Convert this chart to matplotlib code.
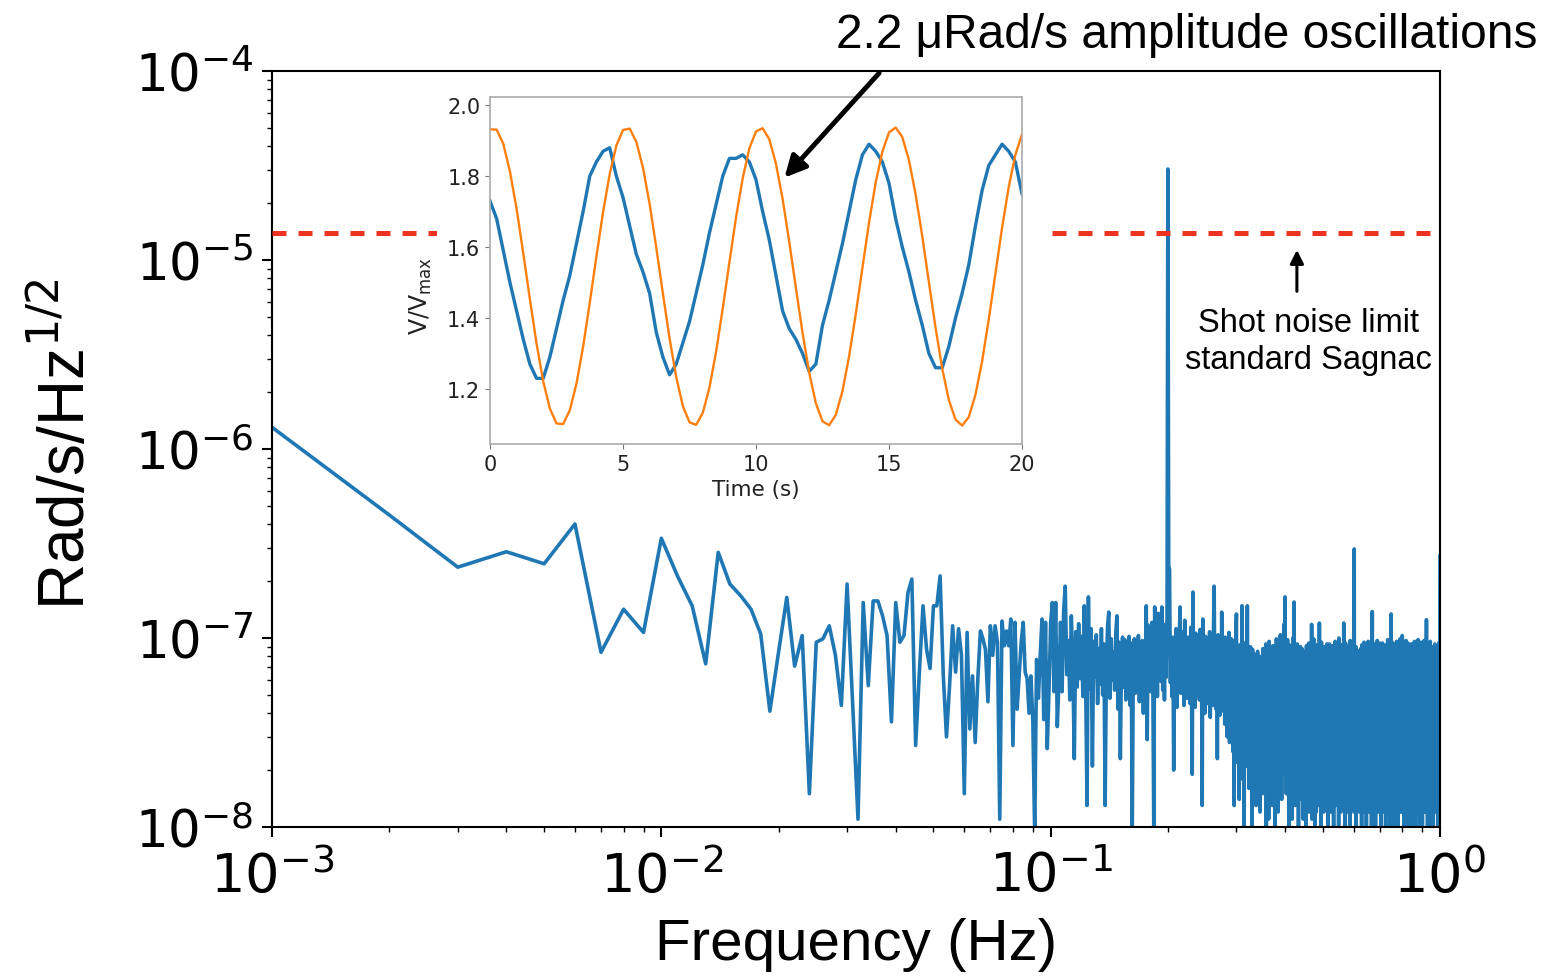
import numpy as np
import matplotlib.pyplot as plt
from matplotlib.patches import Rectangle
from matplotlib.ticker import FormatStrFormatter

plt.rcParams['mathtext.fontset'] = 'dejavusans'

# rotation noise spectrum, 1 mHz bins, in nRad/s/Hz^1/2
# 0.001 - 0.104 Hz
asd_low = [1303, 448, 237, 286, 247, 401, 84, 142, 107, 337,
           213, 148, 73, 284, 193, 167, 142, 105, 41, 84,
           164, 71, 103, 15, 95, 99, 116, 81, 44, 193,
           45, 11, 154, 56, 157, 157, 131, 103, 36, 154,
           95, 103, 174, 205, 27, 66, 148, 87, 69, 148,
           148, 213, 63, 30, 56, 116, 66, 112, 81, 15,
           107, 33, 63, 28, 61, 109, 99, 87, 46, 116,
           81, 116, 95, 11, 123, 91, 109, 91, 126, 27,
           121, 42, 63, 95, 121, 66, 61, 40, 63, 36,
           9, 77, 48, 81, 126, 37, 121, 26, 52, 121,
           154, 52, 154, 34]
# 0.105 - 0.299 Hz (rotation signal at 0.2 Hz)
asd_mid = [58, 121, 52, 140, 188, 64, 97, 47, 131, 72,
           23, 108, 55, 119, 61, 102, 49, 148, 58, 13,
           165, 54, 112, 21, 96, 62, 104, 45, 88, 57,
           112, 50, 93, 13, 66, 115, 137, 48, 99, 60,
           84, 53, 107, 131, 42, 95, 23, 76, 101, 55,
           98, 47, 89, 63, 102, 44, 94, 9, 71, 99,
           51, 86, 58, 103, 46, 92, 61, 97, 40, 88,
           55, 148, 29, 117, 64, 93, 52, 121, 57, 10,
           146, 66, 110, 49, 135, 71, 98, 59, 146, 53,
           104, 47, 118, 62, 110, 30300, 241, 230, 58, 96,
           49, 101, 20, 88, 55, 112, 43, 95, 60, 103,
           146, 51, 92, 66, 108, 44, 124, 57, 97, 48,
           101, 62, 89, 45, 114, 52, 19, 175, 58, 94,
           43, 106, 61, 88, 50, 99, 47, 111, 55, 84,
           13, 126, 48, 96, 40, 102, 58, 87, 45, 93,
           52, 108, 38, 97, 61, 90, 44, 115, 188, 50,
           95, 42, 87, 23, 104, 56, 92, 39, 99, 47,
           137, 53, 89, 41, 96, 35, 101, 48, 84, 30,
           93, 44, 107, 28, 88, 51, 99, 33, 90, 25,
           97, 13, 86, 38, 104]
# 0.300 - 1.000 Hz
asd_high = [134, 22, 81, 35, 67, 14, 92, 41, 73, 18, 148, 29, 88, 47, 9, 79, 33, 95, 21, 60,
            148, 37, 84, 16, 71, 44, 90, 25, 58, 8, 87, 39, 66, 19, 82, 30, 75, 13, 69, 42,
            85, 17, 62, 34, 80, 12, 57, 28, 77, 45, 15, 88, 31, 64, 20, 79, 38, 93, 9, 55,
            83, 26, 70, 11, 96, 43, 61, 18, 86, 32, 74, 13, 91, 40, 59, 23, 81, 8, 68, 36,
            99, 21, 72, 47, 12, 87, 29, 65, 17, 104, 35, 78, 14, 90, 42, 63, 24, 118, 19, 71,
            165, 33, 84, 15, 76, 46, 98, 22, 60, 9, 92, 37, 81, 18, 67, 28, 89, 11, 74, 41,
            101, 20, 155, 34, 79, 13, 86, 45, 58, 16, 93, 27, 70, 8, 83, 39, 64, 19, 90, 24,
            77, 14, 88, 31, 62, 11, 85, 43, 56, 17, 80, 25, 69, 9, 91, 36, 60, 15, 78, 22,
            94, 12, 73, 38, 87, 16, 66, 28, 118, 11, 82, 42, 59, 14, 99, 26, 71, 8, 88, 33,
            64, 12, 92, 20, 76, 40, 85, 13, 57, 24, 120, 15, 79, 35, 68, 9, 95, 29, 74, 17,
            86, 44, 61, 12, 90, 23, 72, 14, 83, 37, 66, 16, 93, 27, 58, 8, 80, 32, 70, 13,
            93, 21, 77, 45, 62, 12, 87, 30, 69, 15, 91, 24, 74, 9, 84, 39, 57, 18, 96, 26,
            68, 13, 81, 34, 89, 16, 63, 22, 78, 8, 100, 41, 72, 14, 86, 28, 60, 12, 92, 19,
            75, 36, 87, 13, 66, 25, 120, 15, 80, 43, 59, 9, 94, 30, 71, 17, 85, 22, 64, 12,
            90, 38, 76, 14, 82, 27, 61, 8, 97, 20, 73, 46, 88, 13, 67, 31, 79, 16, 93, 24,
            70, 12, 296, 35, 84, 15, 62, 28, 90, 9, 77, 42, 58, 17, 86, 21, 69, 13, 85, 33,
            64, 12, 81, 26, 73, 16, 88, 39, 60, 8, 92, 23, 70, 14, 83, 31, 57, 18, 95, 12,
            76, 44, 63, 15, 87, 27, 68, 9, 91, 20, 79, 36, 59, 13, 96, 25, 72, 16, 84, 12,
            66, 32, 89, 14, 78, 22, 61, 8, 102, 40, 138, 17, 81, 29, 65, 12, 93, 24, 70, 15,
            86, 37, 58, 9, 90, 19, 74, 43, 67, 13, 97, 28, 80, 16, 62, 12, 88, 34, 71, 21,
            94, 14, 69, 26, 83, 8, 60, 39, 91, 17, 76, 23, 94, 12, 65, 30, 85, 15, 72, 44,
            57, 13, 89, 22, 78, 9, 64, 35, 92, 16, 70, 27, 83, 12, 98, 20, 61, 38, 87, 14,
            75, 25, 66, 8, 90, 31, 59, 17, 80, 134, 42, 12, 73, 21, 95, 14, 68, 29, 84, 13,
            62, 36, 89, 9, 77, 19, 93, 26, 58, 15, 82, 40, 70, 12, 96, 23, 65, 16, 86, 33,
            74, 8, 91, 20, 60, 45, 85, 13, 69, 28, 99, 17, 78, 12, 63, 37, 88, 15, 72, 24,
            103, 12, 67, 31, 84, 14, 59, 22, 92, 9, 76, 41, 64, 16, 89, 27, 71, 13, 97, 19,
            81, 35, 62, 8, 87, 24, 70, 15, 94, 43, 57, 12, 79, 29, 66, 17, 90, 21, 73, 13,
            85, 38, 60, 9, 93, 18, 68, 26, 82, 14, 75, 46, 93, 12, 64, 32, 88, 16, 71, 22,
            96, 8, 59, 36, 80, 15, 67, 25, 91, 13, 77, 40, 62, 12, 86, 20, 73, 30, 98, 14,
            65, 17, 84, 42, 58, 9, 90, 27, 70, 15, 81, 34, 95, 12, 63, 23, 88, 16, 76, 38,
            61, 8, 92, 21, 72, 14, 85, 44, 67, 12, 97, 28, 79, 17, 60, 33, 89, 13, 74, 20,
            83, 12, 66, 125, 39, 15, 91, 25, 58, 9, 78, 36, 87, 14, 69, 22, 94, 12, 62, 31,
            80, 16, 71, 8, 96, 27, 57, 43, 85, 13, 68, 20, 90, 12, 74, 35, 63, 15, 88, 24,
            59, 9, 85, 30, 72, 14, 81, 41, 65, 12, 93, 19, 70, 26, 84, 13, 61, 37, 89, 16,
            76, 12, 67, 23, 91, 14, 58, 33, 82, 8, 74, 45, 87, 15, 63, 21, 95, 12, 70, 28,
            272]
shot_noise = 1.39e-5   # Rad/s/Hz^1/2, standard Sagnac

# inset: normalised detector voltage, one sample every 0.25 s
v_blue = [1.73, 1.68, 1.59, 1.50, 1.42, 1.34, 1.27, 1.23, 1.23, 1.29,
          1.37, 1.45, 1.52, 1.61, 1.70, 1.80, 1.84, 1.87, 1.88, 1.80,
          1.74, 1.66, 1.58, 1.53, 1.47, 1.36, 1.29, 1.24, 1.27, 1.33,
          1.39, 1.47, 1.55, 1.64, 1.72, 1.80, 1.85, 1.85, 1.86, 1.84,
          1.79, 1.70, 1.62, 1.52, 1.42, 1.37, 1.34, 1.30, 1.25, 1.27,
          1.38, 1.45, 1.53, 1.61, 1.70, 1.79, 1.86, 1.89, 1.87, 1.84,
          1.78, 1.68, 1.60, 1.53, 1.45, 1.38, 1.30, 1.26, 1.26, 1.32,
          1.40, 1.47, 1.55, 1.66, 1.76, 1.83, 1.86, 1.89, 1.87, 1.84,
          1.75]
v_orange = [1.932, 1.931, 1.891, 1.813, 1.708, 1.583, 1.453, 1.328, 1.222, 1.145,
            1.103, 1.101, 1.140, 1.215, 1.319, 1.443, 1.573, 1.698, 1.806, 1.886,
            1.930, 1.934, 1.897, 1.824, 1.722, 1.599, 1.469, 1.343, 1.234, 1.152,
            1.106, 1.099, 1.133, 1.204, 1.305, 1.427, 1.557, 1.684, 1.794, 1.878,
            1.926, 1.935, 1.904, 1.835, 1.736, 1.615, 1.485, 1.358, 1.246, 1.160,
            1.109, 1.098, 1.127, 1.194, 1.292, 1.411, 1.541, 1.669, 1.782, 1.869,
            1.923, 1.937, 1.910, 1.845, 1.749, 1.631, 1.501, 1.373, 1.258, 1.169,
            1.114, 1.097, 1.121, 1.184, 1.278, 1.396, 1.525, 1.654, 1.769, 1.860,
            1.918]

asd = np.concatenate([asd_low, asd_mid, asd_high]) * 1e-9
freq = np.arange(1, len(asd) + 1) * 1e-3
t_s = np.arange(len(v_blue)) * 0.25

W, H = 1554, 979
fig = plt.figure(figsize=(W / 100, H / 100), dpi=100)

# main spectrum
ax = fig.add_axes([272 / W, 1 - 828 / H, 1168 / W, 756 / H])
ax.loglog(freq, asd, color='#1f77b4', lw=2.6)
ax.plot([1e-3, 0.95], [shot_noise, shot_noise], color='#ee3322', lw=3.6,
        linestyle=(0, (2.8, 2.4)), zorder=3)
ax.set_xlim(1e-3, 1)
ax.set_ylim(1e-8, 1e-4)

for s in ax.spines.values():
    s.set_linewidth(1.5)
ax.tick_params(which='major', length=7, width=1.5, direction='out')
ax.tick_params(which='minor', length=3.5, width=1.0)
ax.tick_params(axis='y', labelsize=37, pad=6)
ax.tick_params(axis='x', labelsize=39, pad=9)

ax.set_xlabel('Frequency (Hz)', fontsize=42, family='Liberation Sans')
ax.xaxis.set_label_coords(0.5, -0.119)
ax.set_ylabel('Rad/s/Hz$^{1/2}$', fontsize=46, family='Liberation Sans')
ax.yaxis.set_label_coords(-0.149, 0.507)

# shot noise annotation
ax.annotate('', xy=(0.429, 1.17e-5), xytext=(0.429, 6.6e-6),
            arrowprops=dict(arrowstyle='-|>', mutation_scale=20, lw=2.2, color='black'))
ax.text(0.46, 3.75e-6, 'Shot noise limit\nstandard Sagnac', ha='center', va='center',
        fontsize=23.5, family='Liberation Sans', linespacing=1.25)

# white background behind the inset (hides the dashed line there)
fig.add_artist(Rectangle((437 / W, 1 - 515 / H), (1048 - 437) / W, (515 - 88) / H,
                         transform=fig.transFigure, facecolor='white',
                         edgecolor='none', zorder=2))

# inset time trace
axi = fig.add_axes([490 / W, 1 - 445 / H, 532 / W, 347 / H], zorder=3)
axi.plot(t_s, v_blue, color='#1f77b4', lw=2.4)
axi.plot(t_s, v_orange, color='#ff7f0e', lw=1.7)
axi.set_xlim(0, 20)
axi.set_ylim(1.045, 2.023)
axi.set_xticks([0, 5, 10, 15, 20])
axi.set_yticks([1.2, 1.4, 1.6, 1.8, 2.0])
axi.yaxis.set_major_formatter(FormatStrFormatter('%.1f'))
for s in axi.spines.values():
    s.set_color('#aaaaaa')
    s.set_linewidth(1.2)
axi.tick_params(labelsize=15, length=3.5, color='#777777', labelcolor='#222222')
axi.set_xlabel('Time (s)', fontsize=15.5, labelpad=4, color='#222222')
axi.set_ylabel('V/V$_{\\rm max}$', fontsize=17, color='#222222')
axi.yaxis.set_label_coords(-0.105, 0.43)

# amplitude annotation
axi.annotate('', xy=(11.0, 1.79), xytext=(881 / W, 1 - 72 / H), textcoords='figure fraction',
             arrowprops=dict(arrowstyle='-|>', mutation_scale=32, lw=3.5, color='black'))
fig.text(1187 / W, 1 - 36 / H, '2.2 \u03bcRad/s amplitude oscillations', ha='center',
         va='center', fontsize=34.5, family='Liberation Sans', zorder=4)

fig.savefig('out.png', dpi=100)
